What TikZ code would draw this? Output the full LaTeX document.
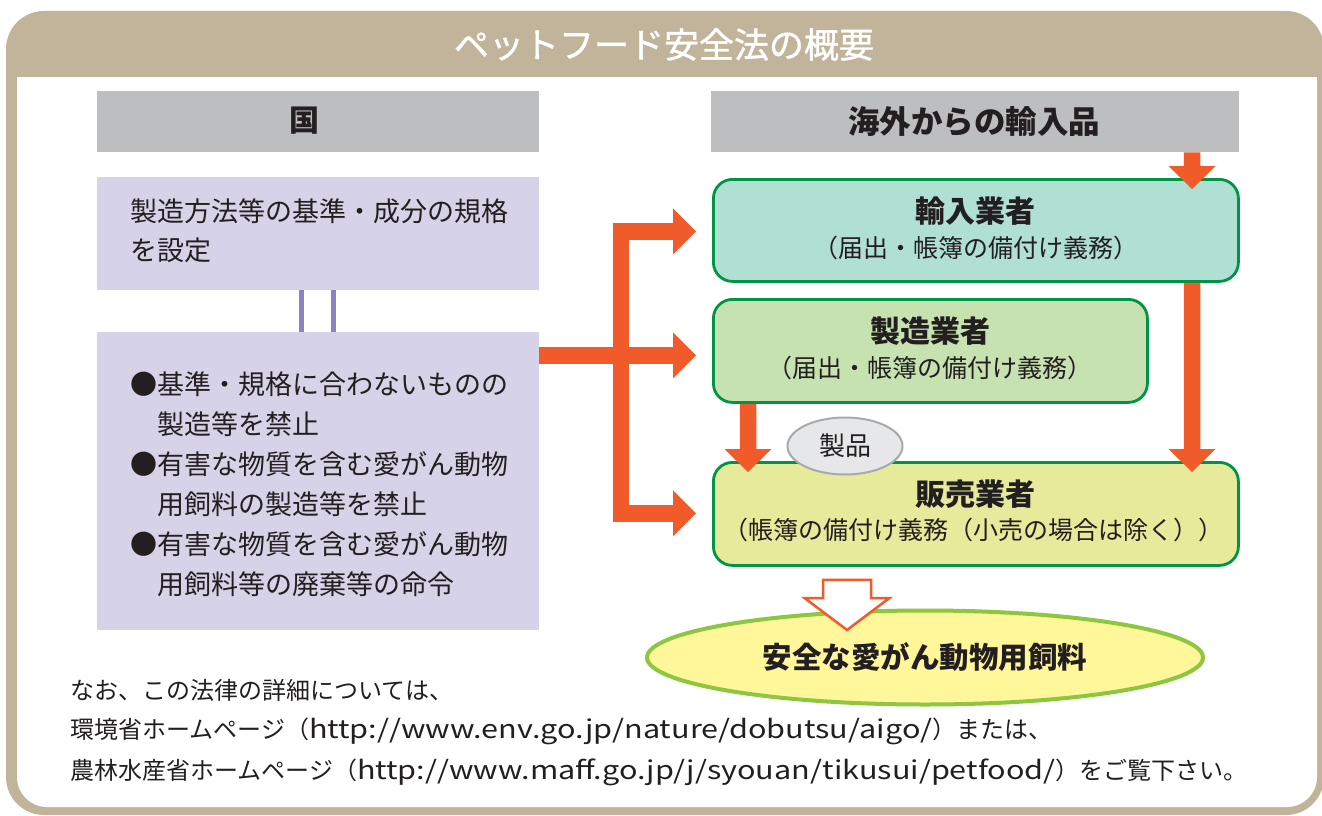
\documentclass[tikz,border=0pt]{standalone}
\usepackage{fontspec}
\setmainfont{Noto Sans CJK JP}
\newfontfamily\titlefont[FakeBold=1.2]{Noto Sans CJK JP}
\usetikzlibrary{calc,shapes.geometric}
\definecolor{tanc}{HTML}{C2B49A}
\definecolor{grayh}{HTML}{BCBEC0}
\definecolor{lavc}{HTML}{D6D2E8}
\definecolor{purpc}{HTML}{8C84C0}
\definecolor{orangec}{HTML}{F15A29}
\definecolor{greenb}{HTML}{009444}
\definecolor{tealf}{HTML}{B0DFD4}
\definecolor{lgreenf}{HTML}{C6E2B0}
\definecolor{yelgf}{HTML}{E7EA9A}
\definecolor{prodf}{HTML}{E6E7E8}
\definecolor{prodb}{HTML}{A7A9AC}
\definecolor{safef}{HTML}{FFF799}
\definecolor{safeb}{HTML}{8DC63F}
\definecolor{inkc}{HTML}{231F20}
\newcommand\setfs[1]{\fontsize{#1}{#1}\selectfont}
\newcommand\urltext[1]{\scalebox{1.2}[1]{\setfs{25.5}#1}}
\newcommand\rhead[1]{\fill[orangec] (#1) -- ++(-23,-23) -- ++(0,46) -- cycle;}
\newcommand\darrow[2]{\fill[orangec] ($(#1)+(-8.25,0)$) -- ($(#2)+(-8.25,-23)$) -- ($(#2)+(-23.5,-23)$) -- (#2) -- ($(#2)+(23.5,-23)$) -- ($(#2)+(8.25,-23)$) -- ($(#1)+(8.25,0)$) -- cycle;}
\begin{document}
\begin{tikzpicture}[x=1pt,y=-1pt,
  txt/.style={inner sep=0pt,text=inkc},
  grayhdr/.style={fill=grayh,inner sep=0pt,anchor=north west,text=inkc},
  lav/.style={fill=lavc,inner sep=0pt,anchor=north west,minimum width=442pt},
  gbox/.style={draw=greenb,line width=2.8pt,rounded corners=19pt,inner sep=0pt,anchor=north west},
  orline/.style={draw=orangec,line width=16.5pt,line join=miter}]
\useasboundingbox (0,0) rectangle (1322,816);
% frame
\fill[tanc,rounded corners=38pt] (6,11) rectangle (1324,815);
\fill[white,rounded corners=30pt] (17,50) rectangle (1317,807);
\fill[tanc] (16,40) rectangle (1318,77);
\node[txt,text=white] (title) at (664,44.5) {\titlefont\setfs{35}ペットフード安全法の概要};
% headers
\node[grayhdr,minimum width=442pt,minimum height=61pt] (hdrL) at (97,91) {};
\node[txt] (kuni) at (304,121) {\setfs{30}\bfseries 国};
\node[grayhdr,minimum width=528pt,minimum height=61pt] (hdrR) at (711,91) {};
\node[txt] (imphdr) at (974,121.5) {\setfs{31.5}\bfseries 海外からの輸入品};
% left boxes
\node[lav,minimum height=113pt] (set) at (97,177) {};
\node[lav,minimum height=298pt] (ban) at (97,332) {};
\draw[purpc,line width=5pt] ($(set.south west)+(204,0)$) -- ($(ban.north west)+(204,0)$);
\draw[purpc,line width=5pt] ($(set.south west)+(236,0)$) -- ($(ban.north west)+(236,0)$);
\node[txt,anchor=west] (s1) at (130,211) {\setfs{27}製造方法等の基準・成分の規格};
\node[txt,anchor=west] (s2) at (130,250) {\setfs{27}を設定};
\node[txt,anchor=west] (b1) at (130,384) {\setfs{27}●基準・規格に合わないものの};
\node[txt,anchor=west] (b2) at (157,424) {\setfs{27}製造等を禁止};
\node[txt,anchor=west] (b3) at (130,464) {\setfs{27}●有害な物質を含む愛がん動物};
\node[txt,anchor=west] (b4) at (157,504) {\setfs{27}用飼料の製造等を禁止};
\node[txt,anchor=west] (b5) at (130,544) {\setfs{27}●有害な物質を含む愛がん動物};
\node[txt,anchor=west] (b6) at (157,584) {\setfs{27}用飼料等の廃棄等の命令};
% right boxes
\node[gbox,fill=tealf,minimum width=525pt,minimum height=102pt] (imp) at (712,178) {};
\node[gbox,fill=lgreenf,minimum width=434pt,minimum height=103pt] (man) at (712,298) {};
\node[gbox,fill=yelgf,minimum width=525pt,minimum height=103pt] (sel) at (712,461) {};
\node[txt] (impt) at ($(imp.north)+(0,33)$) {\setfs{30}\bfseries 輸入業者};
\node[txt] (imps) at ($(imp.north)+(0,70)$) {\setfs{25}（届出・帳簿の備付け義務）};
\node[txt] (mant) at ($(man.north)+(0,33)$) {\setfs{30}\bfseries 製造業者};
\node[txt] (mans) at ($(man.north)+(0,70)$) {\setfs{25}（届出・帳簿の備付け義務）};
\node[txt] (selt) at ($(sel.north)+(0,33)$) {\setfs{30}\bfseries 販売業者};
\node[txt] (sels) at ($(sel.north)+(-2,69)$) {\setfs{25}（帳簿の備付け義務（小売の場合は除く））};
% left tree arrows
\coordinate (bx) at (621,0);
\coordinate (t1) at ($(imp.west)+(-16,1)$);
\coordinate (t2) at ($(man.west)+(-16,4.5)$);
\coordinate (t3) at ($(sel.west)+(-16,-0.5)$);
\draw[orline] ($(t1)+(-23,0)$) -- (t1 -| bx) -- (t3 -| bx) -- ($(t3)+(-23,0)$);
\draw[orline] (ban.east |- t2) -- ($(t2)+(-23,0)$);
\rhead{t1}\rhead{t2}\rhead{t3}
% down arrows
\coordinate (ax) at (1192,0);
\coordinate (mx) at (748,0);
\coordinate (a1s) at (hdrR.south -| ax);
\coordinate (a1t) at ($(imp.north -| ax)+(0,11)$);
\coordinate (a2s) at (imp.south -| ax);
\coordinate (a2t) at ($(sel.north -| ax)+(0,11)$);
\coordinate (a3s) at (man.south -| mx);
\coordinate (a3t) at ($(sel.north -| mx)+(0,11)$);
\darrow{a1s}{a1t}
\darrow{a2s}{a2t}
\darrow{a3s}{a3t}
% product ellipse
\node[ellipse,draw=prodb,fill=prodf,line width=2pt,minimum width=115pt,minimum height=57pt,inner sep=0pt,text=inkc] (prod) at (845,446) {\setfs{26}製品};
% safe ellipse
\node[ellipse,draw=safeb,fill=safef,line width=4pt,minimum width=556pt,minimum height=94pt,inner sep=0pt,text=inkc] (safe) at (925,657.5) {\setfs{29.5}\bfseries 安全な愛がん動物用飼料};
% hollow arrow
\coordinate (hx) at (847,0);
\coordinate (hs) at ($(sel.south -| hx)+(0,13)$);
\coordinate (ht) at ($(safe.north -| hx)+(0,21.5)$);
\filldraw[draw=orangec,fill=white,line width=2.5pt,line join=miter] ($(hs)+(-24,0)$) -- ($(ht)+(-24,-32)$) -- ($(ht)+(-42.5,-32)$) -- (ht) -- ($(ht)+(42.5,-32)$) -- ($(ht)+(24,-32)$) -- ($(hs)+(24,0)$) -- cycle;
% footer
\node[txt,anchor=west] (f1) at (70,690) {\setfs{24}なお、この法律の詳細については、};
\node[txt,anchor=west] (f2) at (70,731) {\setfs{24}環境省ホームページ（\urltext{http://www.env.go.jp/nature/dobutsu/aigo/}）または、};
\node[txt,anchor=west] (f3) at (70,772) {\setfs{24}農林水産省ホームページ（\urltext{http://www.maff.go.jp/j/syouan/tikusui/petfood/}）をご覧下さい。};
\end{tikzpicture}
\end{document}
